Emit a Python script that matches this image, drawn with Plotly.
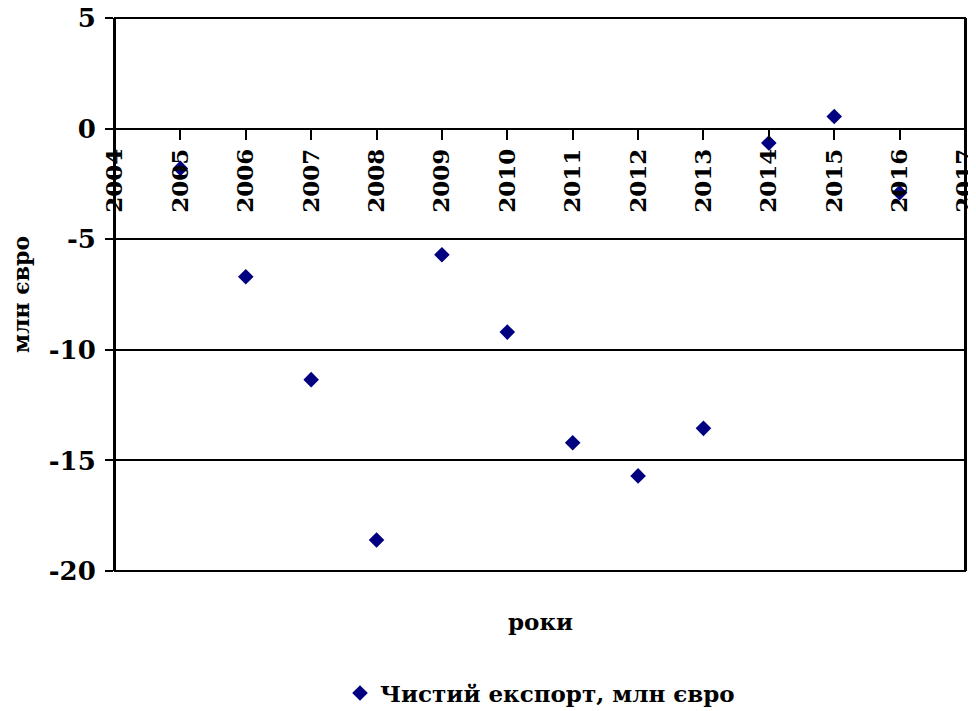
import plotly.graph_objects as go

years = [2005, 2006, 2007, 2008, 2009, 2010, 2011, 2012, 2013, 2014, 2015, 2016]
net_export = [-1.8, -6.7, -11.35, -18.6, -5.7, -9.2, -14.2, -15.7, -13.55, -0.65, 0.55, -2.9]
x_ticks = list(range(2004, 2018))
y_ticks = [5, 0, -5, -10, -15, -20]
y_tick_text = ["5", "0", "-5", "-10", "-15", "-20"]

FONT = "DejaVu Serif"

fig = go.Figure()
fig.add_trace(go.Scatter(
    x=years, y=net_export, mode="markers",
    name="Чистий експорт, млн євро",
    marker=dict(symbol="diamond", size=12, color="#000080"),
))

fig.update_layout(
    width=968, height=703,
    margin=dict(l=107, r=11, t=10, b=140, autoexpand=False),
    paper_bgcolor="white", plot_bgcolor="white",
    font=dict(family=FONT, color="black"),
    showlegend=True,
    legend=dict(orientation="h", x=0.5, xanchor="center", y=-0.2206, yanchor="middle",
                font=dict(family=FONT, size=23, color="black", weight="bold"), itemwidth=30),
    xaxis=dict(
        range=[2003.9999, 2017.0001], tickmode="array", tickvals=x_ticks,
        ticktext=[str(t) for t in x_ticks],
        tickangle=-90, ticks="outside", ticklen=10, tickwidth=2, tickcolor="black",
        showline=True, linecolor="black", linewidth=2,
        showgrid=False, zeroline=False,
        anchor="free", position=0.8, automargin=False,
        ticklabeloverflow="allow",
        tickfont=dict(family=FONT, size=23, color="black", weight="bold"),
    ),
    yaxis=dict(
        range=[-20, 5], tickmode="array", tickvals=y_ticks, ticktext=y_tick_text,
        ticks="outside", ticklen=8, tickwidth=2, tickcolor="black",
        showline=True, linecolor="black", linewidth=2, mirror=True,
        showgrid=True, gridcolor="black", gridwidth=2, zeroline=False,
        automargin=False, ticklabeloverflow="allow",
        tickfont=dict(family=FONT, size=26, color="black", weight="bold"),
        ticklabelstandoff=4,
        title=dict(text="млн євро", font=dict(family=FONT, size=22, color="black", weight="bold"),
                   standoff=16),
    ),
    shapes=[dict(type="rect", xref="paper", yref="paper", x0=0, x1=1, y0=0, y1=1,
                 line=dict(color="black", width=2), layer="below")],
    annotations=[dict(text="<b>роки</b>", xref="paper", yref="paper", x=0.5, y=-0.092,
                      showarrow=False, font=dict(family=FONT, size=23, color="black"),
                      xanchor="center", yanchor="middle")],
)

fig.write_html("out.html")
